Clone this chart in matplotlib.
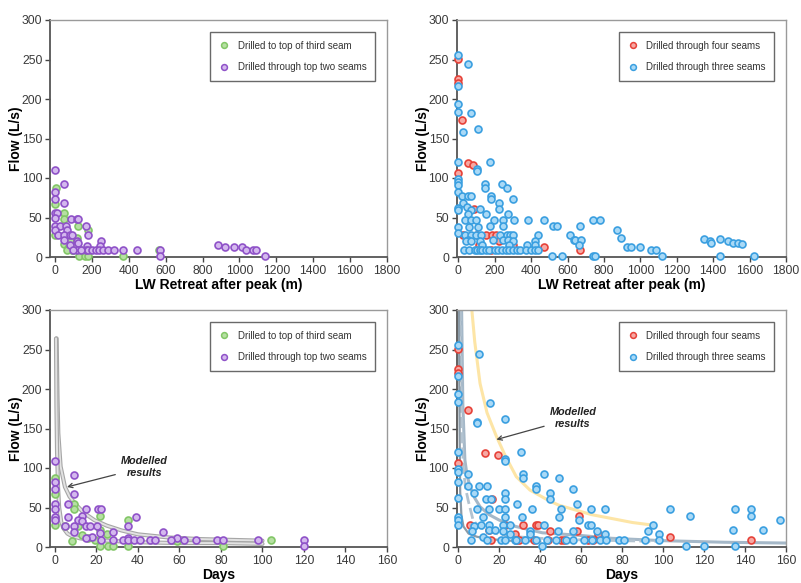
import matplotlib

matplotlib.use("Agg")
import matplotlib.pyplot as plt
from matplotlib.lines import Line2D

plt.rcParams["font.family"] = ["Liberation Sans", "DejaVu Sans"]

# ---- data ------------------------------------------------------------------
# top-left: LW retreat (m) vs flow, two-seam boreholes
tl_green_x = [3, 0, 0, 50, 50, 127, 181, 50, 72, 100, 118, 128, 163, 181, 371, 566, 81, 90, 65, 110, 140]
tl_green_y = [87, 67, 28, 56, 48, 39, 34, 16, 11, 9, 24, 1, 1, 1, 1, 9, 21, 9, 9, 14, 9]
tl_purple_x = [0, 50, 0, 0, 50, 0, 13, 0, 85, 121, 127, 168, 0, 27, 58, 0, 63, 18, 50, 81,
               90, 177, 50, 118, 250, 81, 127, 175, 244, 118, 166, 180, 200, 220, 240, 260,
               290, 322, 371, 443, 570, 570, 886, 922, 971, 1013, 1037, 1071, 1091, 1140, 100, 140]
tl_purple_y = [110, 92, 82, 73, 68, 56, 56, 49, 48, 48, 48, 39, 39, 39, 39, 34, 34, 28, 28, 28,
               28, 28, 21, 20, 20, 15, 18, 14, 14, 9, 9, 9, 9, 9, 9, 9,
               9, 9, 9, 9, 9, 1, 15, 13, 13, 13, 9, 9, 9, 1, 9, 9]

# top-right: LW retreat (m) vs flow, three/four-seam boreholes
tr_red_x = [0, 0, 0, 20, 54, 78, 0, 85, 27, 100, 150, 187, 205, 223, 114, 299, 468, 670, 181, 63]
tr_red_y = [251, 225, 220, 173, 119, 116, 106, 61, 28, 28, 28, 28, 28, 20, 15, 15, 13, 9, 9, 25]
tr_blue_x = [0, 54, 0, 0, 0, 67, 27, 109, 0, 172, 100, 100, 0, 0, 0, 145, 145, 241, 266, 0,
             18, 54, 67, 181, 181, 299, 27, 223, 223, 0, 0, 45, 118, 67, 54, 154, 275, 36, 72, 96,
             194, 248, 304, 381, 468, 740, 779, 0, 56, 109, 176, 245, 520, 544, 670, 870, 893, 611,
             634, 643, 676, 662, 0, 36, 72, 96, 127, 227, 268, 286, 299, 435, 190, 54, 40, 72, 121,
             248, 272, 299, 422, 132, 281, 375, 422, 33, 60, 90, 100, 118, 130, 150, 170, 200, 220,
             240, 260, 280, 300, 320, 340, 370, 400, 420, 440, 517, 567, 740, 752, 924, 946, 997,
             1057, 1084, 1120, 1350, 1381, 1390, 1437, 1482, 1508, 1537, 1558, 1435, 1626]
tr_blue_y = [256, 244, 216, 194, 183, 182, 158, 162, 120, 120, 112, 109, 99, 95, 91, 92, 87, 92, 87, 82,
             77, 77, 77, 77, 73, 73, 68, 68, 61, 62, 60, 63, 61, 60, 55, 55, 55, 47, 47, 47,
             47, 47, 47, 47, 47, 47, 47, 38, 38, 38, 39, 39, 39, 39, 39, 34, 24, 28,
             22, 21, 21, 15, 30, 28, 28, 28, 28, 28, 28, 28, 28, 28, 22, 22, 20, 20, 20,
             21, 21, 20, 20, 15, 15, 15, 15, 9, 9, 9, 9, 9, 9, 9, 9, 9, 9,
             9, 9, 9, 9, 9, 9, 9, 9, 9, 9, 1, 1, 1, 1, 13, 13, 13,
             9, 9, 1, 23, 20, 18, 23, 20, 18, 18, 16, 1, 1]

# bottom-left: days vs flow, two-seam boreholes
bl_green_x = [0, 0, 0, 9.2, 9.2, 21.7, 35, 4.8, 11.3, 25, 12.9, 16.1, 8, 19.3, 21.7, 25.7, 28, 35, 81, 59, 104, 21.7]
bl_green_y = [87, 67, 28, 55, 48, 39, 34, 27, 27, 16, 15, 11, 8, 9, 1, 1, 1, 1, 1, 8, 9, 21]
bl_purple_x = [0, 9.2, 0, 0, 9.2, 0, 6.1, 0, 15, 20.6, 22, 0, 6.1, 12.9, 39, 0, 11.3, 12.9, 4.8, 9.2,
               15, 16.9, 20.1, 35, 9.2, 28, 52, 21.7, 18, 15, 35, 59, 22, 28, 33, 35, 38, 41,
               46, 48, 56, 62, 68, 78, 81, 98, 120, 120]
bl_purple_y = [109, 91, 82, 73, 67, 55, 55, 48, 48, 48, 48, 38, 38, 39, 38, 34, 34, 33, 27, 27,
               27, 27, 27, 27, 19, 19, 19, 18, 13, 11, 11, 11, 9, 9, 9, 9, 9, 9,
               9, 9, 9, 9, 9, 9, 9, 9, 9, 1]

# bottom-right: days vs flow, three/four-seam boreholes
br_red_x = [0, 0, 0, 4.8, 12.9, 19.5, 0, 16.6, 58.8, 5.6, 23, 31.7, 37.9, 39, 44.8, 58, 27.9, 15, 68,
            103.6, 143, 28, 29.5, 37, 44, 50, 51.5, 63.5, 66, 16.1]
br_red_y = [251, 225, 220, 173, 119, 116, 106, 61, 39, 28, 28, 28, 28, 28, 20, 20, 16, 22, 16,
            13, 9, 9, 9, 9, 9, 9, 9, 9, 9, 9]
br_blue_x = [0, 10, 0, 0, 0, 15.6, 8.9, 8.9, 22.7, 0, 30.8, 22.7, 22.7, 0, 0, 4.8, 31.7, 41.6, 49, 31.7,
             0, 4.8, 10, 13.9, 37.9, 37.9, 55.8, 7.6, 22.7, 45, 45, 0, 13.4, 15.8, 22.7, 28.7, 58,
             8.9, 15, 19.8, 22.7, 35.8, 50, 64.8, 71.7, 103.6, 135, 143, 0, 11.8, 22.7, 31, 49, 59,
             113, 143, 157, 0, 0, 7.6, 11, 15, 22, 25.3, 42, 63.5, 64.8, 95, 6.6, 15, 17.9, 21.7,
             35, 48.8, 55.8, 67.8, 92.6, 134, 149, 11.8, 25, 35, 71.7, 98, 6, 13.9, 20.6, 22.7,
             27.6, 28, 32.4, 37.9, 43.2, 47.5, 52.5, 55.8, 61.5, 65.5, 69, 72, 78.5, 80.9, 91, 98,
             41, 111, 120, 135]
br_blue_y = [256, 244, 216, 194, 183, 182, 158, 157, 162, 120, 120, 112, 109, 99, 95, 92, 92, 92, 87, 87,
             82, 77, 77, 77, 77, 73, 73, 68, 68, 68, 61, 62, 61, 61, 61, 55, 55,
             48, 48, 48, 48, 48, 48, 48, 48, 48, 48, 48, 38, 38, 38, 38, 38, 34,
             39, 39, 34, 34, 28, 27, 28, 28, 28, 28, 28, 28, 28, 28, 20, 21, 22, 20,
             20, 20, 20, 20, 20, 22, 22, 13, 16, 16, 16, 16, 9, 9, 9, 9,
             9, 9, 9, 9, 9, 9, 9, 9, 9, 9, 9, 9, 9, 9, 9, 9,
             1, 1, 1, 1]

# modelled curves
bl_model_a_x = [0.8, 1.2, 1.6, 2.7, 4.8, 7, 9.6, 14, 19, 25, 32, 40, 55, 70, 85, 100]
bl_model_a_y = [264, 190, 144, 102, 76, 64, 55, 43, 34, 27, 21, 16, 12, 10, 9, 8]
bl_model_b_x = [0.5, 0.7, 1, 1.5, 2, 3, 4, 6, 8, 12, 18, 25, 40, 60, 80, 100]
bl_model_b_y = [264, 180, 120, 75, 50, 32, 24, 17, 14, 11, 9, 8, 6, 5, 5, 4]

br_yellow_x = [6.6, 8, 10.6, 14, 18.6, 23, 28.3, 35, 44, 49, 57, 65, 75, 85, 94]
br_yellow_y = [300, 260, 207, 170, 140, 115, 89, 72, 59, 53, 47, 41, 36, 31, 28]
br_model_a_x = [1.6, 2.2, 3.2, 4.3, 5.8, 8, 10.6, 15, 20, 28, 41, 58, 75, 100, 130, 160]
br_model_a_y = [300, 180, 110, 90, 76, 62, 51, 41, 34, 26, 18, 15, 11, 8, 6, 5]
br_model_b_x = [0.9, 1.4, 2.4, 3.5, 4.8, 7.2, 10, 13.8, 20, 28, 40, 60, 80, 98]
br_model_b_y = [300, 180, 102, 75, 59, 34, 26, 21, 16, 13, 11, 9, 8, 7]
br_model_c_x = [0.3, 0.5, 0.7, 0.9, 1.5, 2.5, 5, 9, 15, 25, 40]
br_model_c_y = [300, 200, 120, 70, 40, 26, 17, 13, 10, 8, 7]

GREEN = ("#b6e0a2", "#82c667")
PURPLE = ("#d4b8ee", "#8f52c8")
RED = ("#f7a8a3", "#e64239")
BLUE = ("#a9d9f6", "#3a9fe0")


def style_axes(ax, xmin, xmax, xstep, xlabel):
    ax.set_xlim(xmin, xmax)
    ax.set_ylim(0, 300)
    ax.set_xticks(range(0, xmax + 1, xstep))
    ax.set_yticks(range(0, 301, 50))
    ax.tick_params(direction="out", length=3.5, width=1, colors="#444444",
                   labelsize=8.7, labelcolor="#3a3a3a", pad=2)
    for side in ("top", "right"):
        ax.spines[side].set_color("#9a9a9a")
        ax.spines[side].set_linewidth(1.0)
    for side in ("left", "bottom"):
        ax.spines[side].set_color("#555555")
        ax.spines[side].set_linewidth(1.3)
    ax.set_xlabel(xlabel, fontsize=10, fontweight="bold", labelpad=1)
    ax.set_ylabel("Flow (L/s)", fontsize=10, fontweight="bold", labelpad=-1)


def scatter(ax, xs, ys, colors, z):
    ax.plot(xs, ys, "o", ms=5.0, mfc=colors[0], mec=colors[1], mew=1.2,
            clip_on=False, zorder=z)


def legend(ax, entries):
    handles = [
        Line2D([], [], ls="", marker="o", ms=4.2, mfc=c[0], mec=c[1], mew=1.1, label=lab)
        for lab, c in entries
    ]
    leg = ax.legend(handles=handles, loc="upper right", bbox_to_anchor=(0.965, 0.95),
                    borderaxespad=0, fontsize=7.0, frameon=True, fancybox=False,
                    edgecolor="#444444", labelspacing=1.2, handlelength=1.0,
                    handletextpad=0.9, borderpad=0.9)
    leg.get_frame().set_linewidth(1.0)
    for t in leg.get_texts():
        t.set_color("#333333")


def gray_curve(ax, xs, ys):
    ax.plot(xs, ys, color="#a6a6a6", lw=3.0, solid_capstyle="round", zorder=2)
    ax.plot(xs, ys, color="#e2e2e2", lw=1.4, solid_capstyle="round", zorder=2)


def annotate(ax, xy, xytext):
    ax.annotate("Modelled\nresults", xy=xy, xytext=xytext, ha="center", va="center",
                fontsize=7.8, fontweight="bold", style="italic", color="#222222",
                arrowprops=dict(arrowstyle="->", color="#444444", lw=0.9,
                                shrinkA=2, shrinkB=0), zorder=6)


fig = plt.figure(figsize=(8.01, 5.83), dpi=100)
W, H = 801, 583
# right-hand panels end a few pixels short of the edge so "1800" fits
ax_tl = fig.add_axes([50 / W, (H - 257) / H, 337 / W, 237 / H])
ax_tr = fig.add_axes([456.7 / W, (H - 257) / H, 329.3 / W, 237 / H])
ax_bl = fig.add_axes([50 / W, (H - 547) / H, 337 / W, 237 / H])
ax_br = fig.add_axes([456.7 / W, (H - 547) / H, 329.3 / W, 237 / H])

# top-left
style_axes(ax_tl, -27, 1800, 200, "LW Retreat after peak (m)")
scatter(ax_tl, tl_green_x, tl_green_y, GREEN, 3)
scatter(ax_tl, tl_purple_x, tl_purple_y, PURPLE, 4)
legend(ax_tl, [("Drilled to top of third seam", GREEN),
               ("Drilled through top two seams", PURPLE)])

# top-right
style_axes(ax_tr, -9, 1800, 200, "LW Retreat after peak (m)")
scatter(ax_tr, tr_red_x, tr_red_y, RED, 3)
scatter(ax_tr, tr_blue_x, tr_blue_y, BLUE, 4)
legend(ax_tr, [("Drilled through four seams", RED),
               ("Drilled through three seams", BLUE)])

# bottom-left
style_axes(ax_bl, -2.4, 160, 20, "Days")
gray_curve(ax_bl, bl_model_a_x, bl_model_a_y)
gray_curve(ax_bl, bl_model_b_x, bl_model_b_y)
scatter(ax_bl, bl_green_x, bl_green_y, GREEN, 3)
scatter(ax_bl, bl_purple_x, bl_purple_y, PURPLE, 4)
legend(ax_bl, [("Drilled to top of third seam", GREEN),
               ("Drilled through top two seams", PURPLE)])
annotate(ax_bl, (5.8, 76), (43, 101))

# bottom-right
style_axes(ax_br, -0.8, 160, 20, "Days")
ax_br.plot(br_yellow_x, br_yellow_y, color="#fde5a6", lw=2.2, zorder=2)
ax_br.plot(br_model_a_x, br_model_a_y, color="#a5b8c8", lw=2.2, zorder=2)
ax_br.plot(br_model_b_x, br_model_b_y, color="#b3c3d0", lw=2.0, ls=(0, (4, 1.5)), zorder=2)
ax_br.plot(br_model_c_x, br_model_c_y, color="#8b9ba8", lw=1.6, zorder=2)
scatter(ax_br, br_red_x, br_red_y, RED, 3)
scatter(ax_br, br_blue_x, br_blue_y, BLUE, 4)
legend(ax_br, [("Drilled through four seams", RED),
               ("Drilled through three seams", BLUE)])
annotate(ax_br, (18.6, 136), (56, 163))

fig.savefig("out.png", dpi=100, facecolor="white")
plt.close(fig)
